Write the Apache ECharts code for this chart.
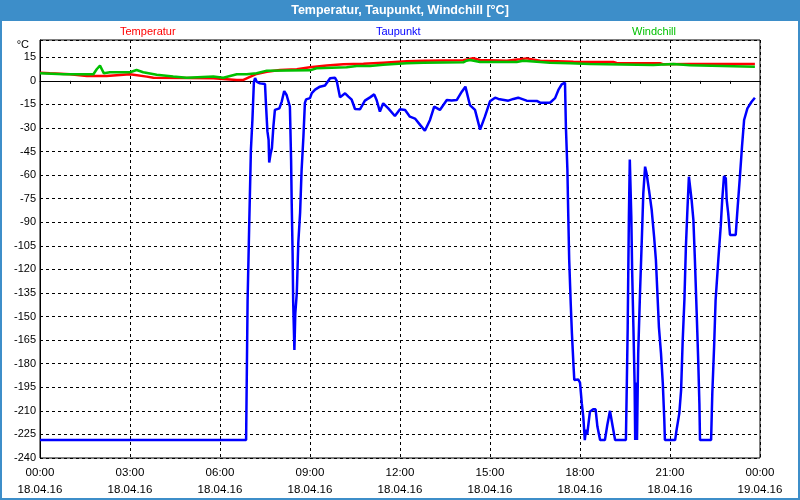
<!DOCTYPE html>
<html>
<head>
<meta charset="utf-8">
<script src="https://cdn.jsdelivr.net/npm/echarts@6/dist/echarts.min.js"></script>
<style>html,body{margin:0;padding:0;background:#fff}#c{width:800px;height:500px}</style>
</head>
<body>
<div id="c"></div>
<script>
const seriesNames = ['Temperatur', 'Taupunkt', 'Windchill'];
const xTickTimes = ['00:00','03:00','06:00','09:00','12:00','15:00','18:00','21:00','00:00'];
const xTickDates = ['18.04.16','18.04.16','18.04.16','18.04.16','18.04.16','18.04.16','18.04.16','18.04.16','19.04.16'];

// [hour, °C]
const tempData = [
  [0,5.2],[0.33,4.8],[1.0,4.2],[1.56,3.1],[2.22,3.1],[3.0,4.2],[3.56,2.7],[3.78,2.0],
  [4.89,1.8],[5.78,1.6],[6.11,1.2],[6.56,0.6],[6.78,0.6],[7.0,2.5],[7.22,4.4],[7.56,5.8],
  [8.0,6.9],[8.56,7.4],[9.0,8.6],[9.56,9.7],[10.11,10.5],[10.78,10.9],[11.44,11.6],[12.22,12.4],
  [12.78,12.8],[14.11,13.1],[14.44,14.4],[14.67,13.3],[15.56,12.8],[16.0,13.7],[16.22,14.3],
  [16.67,12.8],[17.78,12.2],[19.11,12.0],[19.22,11.4],[20.67,11.2],[20.78,10.5],[21.67,10.7],[23.83,10.7]
];

const dewData = [
  [0,-228.5],[6.87,-228.5],[6.92,-139.5],[6.97,-95],[7.03,-44],[7.08,-25],[7.13,-0.7],[7.17,1.8],
  [7.22,-0.5],[7.33,-1.6],[7.5,-2],[7.53,-14],[7.58,-32],[7.62,-37.6],[7.64,-52],[7.69,-46],
  [7.73,-42.8],[7.78,-29],[7.83,-18.5],[7.98,-17.5],[8.06,-13],[8.14,-6.5],[8.22,-9],[8.33,-16.4],
  [8.37,-50.4],[8.39,-77.8],[8.42,-109.6],[8.44,-141],[8.48,-171.3],[8.51,-148],[8.56,-135],
  [8.61,-103],[8.67,-84],[8.72,-56.7],[8.78,-35.7],[8.83,-14],[8.87,-11.8],[9.0,-11],[9.06,-7.8],
  [9.17,-5.6],[9.33,-3.7],[9.5,-3],[9.67,1.6],[9.83,2],[9.89,0],[10.0,-10.5],[10.17,-7.9],
  [10.28,-10],[10.39,-12],[10.5,-17.9],[10.67,-18],[10.83,-12.6],[11.0,-10.5],[11.14,-8.6],
  [11.22,-12.2],[11.33,-19.6],[11.44,-14.3],[11.61,-17.5],[11.83,-22.4],[12.0,-18],[12.17,-18.5],
  [12.33,-22.8],[12.5,-24],[12.67,-28],[12.83,-31.7],[13.0,-24.9],[13.14,-16.4],[13.33,-18.5],
  [13.56,-12.2],[13.72,-12.5],[13.89,-12.2],[14.06,-6.9],[14.18,-3.7],[14.33,-15.4],[14.5,-18.5],
  [14.67,-31],[14.83,-22.8],[15.0,-13],[15.17,-10.7],[15.28,-11.5],[15.61,-12.6],[15.78,-11.5],
  [15.94,-10.7],[16.22,-12.6],[16.56,-12.8],[16.67,-13.9],[17.0,-13.9],[17.17,-11],[17.28,-5.8],
  [17.39,-2.2],[17.5,-1.2],[17.53,-29.2],[17.58,-56.7],[17.61,-86.5],[17.64,-114],[17.69,-141.4],
  [17.73,-160.5],[17.78,-179.8],[17.81,-190.4],[17.94,-190],[18.0,-192],[18.06,-205.3],[18.11,-213.8],
  [18.16,-228.6],[18.2,-222],[18.24,-225],[18.33,-210.6],[18.44,-209],[18.52,-209],[18.58,-220],
  [18.67,-228.6],[18.83,-228.6],[18.91,-219],[19.0,-210],[19.09,-220],[19.17,-228.6],[19.53,-228.6],
  [19.56,-193.6],[19.59,-156.5],[19.61,-120.4],[19.63,-86.5],[19.66,-50],[19.69,-51],[19.71,-86.5],
  [19.74,-122.5],[19.78,-156.5],[19.82,-192.5],[19.84,-228.6],[19.87,-192],[19.9,-228.6],
  [19.94,-173.4],[20.0,-135.2],[20.06,-101.3],[20.11,-71.6],[20.17,-54.6],[20.22,-58.9],[20.3,-69.5],
  [20.39,-82.2],[20.47,-99.2],[20.53,-114],[20.58,-135.2],[20.63,-156.5],[20.7,-173.4],[20.76,-192.5],
  [20.81,-215.8],[20.83,-228.6],[21.17,-228.6],[21.22,-222],[21.31,-211.6],[21.37,-196.8],[21.42,-167],
  [21.48,-139.5],[21.53,-105.5],[21.58,-82.2],[21.63,-61],[21.67,-61],[21.72,-75.8],[21.78,-88.6],
  [21.83,-114],[21.89,-148],[21.94,-177.7],[21.98,-205.3],[22.0,-228.6],[22.37,-228.6],[22.41,-199],
  [22.47,-169.2],[22.52,-139.5],[22.61,-114],[22.69,-92.8],[22.74,-75.8],[22.8,-60.6],[22.86,-62],
  [22.89,-75.8],[22.94,-84.3],[23.0,-98.1],[23.19,-98.1],[23.24,-84.3],[23.33,-61],[23.4,-41.9],
  [23.47,-24.9],[23.58,-17.5],[23.72,-13.3],[23.83,-10.7]
];

const chillData = [
  [0,4.8],[0.78,4.2],[1.78,4.2],[1.89,7.4],[2.0,9.7],[2.13,4.8],[2.33,5.5],[3.0,5.5],[3.22,6.9],
  [3.44,5.5],[3.89,3.9],[4.44,2.7],[4.89,2.0],[5.78,2.7],[6.11,2.0],[6.56,4.2],[6.89,4.2],[7.22,4.8],
  [7.56,6.5],[9.0,6.7],[9.22,8.0],[10.22,8.6],[10.56,9.5],[11.0,9.5],[11.44,10.3],[12.22,11.2],
  [12.78,11.6],[14.11,11.8],[14.22,12.8],[14.33,13.3],[14.67,12.0],[15.89,12.0],[16.11,12.8],
  [16.56,12.2],[17.0,11.6],[17.67,11.2],[18.33,10.7],[20.44,10.1],[21.11,10.7],[21.67,9.9],[23.83,9.0]
];

const colors = ['#ff0000', '#0000ff', '#00c000'];
const FONT = 'Liberation Sans';
const chart = echarts.init(document.getElementById('c'), null, {renderer: 'canvas'});

chart.setOption({
  animation: false,
  backgroundColor: '#ffffff',
  graphic: [
    {type: 'rect', z: 0, silent: true, shape: {x: 0, y: 0, width: 800, height: 21}, style: {fill: '#3d8ec9'}},
    {type: 'rect', z: 0, silent: true, shape: {x: 1, y: 1, width: 798, height: 498}, style: {fill: 'none', stroke: '#3d8ec9', lineWidth: 2}},
    {type: 'text', z: 10, silent: true, x: 29, y: 45, style: {text: '°C', fill: '#000', font: '11px "' + FONT + '"', align: 'right', verticalAlign: 'middle'}}
  ],
  title: {
    text: 'Temperatur, Taupunkt, Windchill [°C]',
    left: 'center', top: 0, padding: [4, 5, 4, 5],
    textStyle: {color: '#ffffff', fontSize: 12.5, fontWeight: 'bold', fontFamily: FONT}
  },
  legend: seriesNames.map((n, i) => ({
    data: [n], left: [115, 371, 627][i], top: 25, padding: 0, icon: 'none', itemWidth: 0, itemHeight: 14,
    selectedMode: false,
    textStyle: {color: colors[i], fontSize: 11, fontFamily: FONT}
  })),
  grid: {left: 40, right: 40, top: 40, bottom: 42, show: true, borderColor: '#000', borderWidth: 1, backgroundColor: 'transparent'},
  xAxis: {
    type: 'value', min: 0, max: 24, interval: 3,
    axisLine: {show: true, lineStyle: {color: '#000', width: 1}},
    axisTick: {show: true, length: 4, lineStyle: {color: '#000'}},
    minorTick: {show: true, splitNumber: 3, length: 3, lineStyle: {color: '#000'}},
    splitLine: {show: true, lineStyle: {color: '#000', type: [3, 3], width: 1}},
    axisLabel: {
      color: '#000', fontSize: 11.5, fontFamily: FONT, lineHeight: 17, margin: 6,
      formatter: v => { const i = Math.round(v / 3); return xTickTimes[i] + '\n' + xTickDates[i]; }
    }
  },
  yAxis: {
    type: 'value', min: -240, max: 26, interval: 15,
    axisLine: {show: true, lineStyle: {color: '#000', width: 1}},
    axisTick: {show: false},
    splitLine: {show: true, lineStyle: {color: '#000', type: [3, 3], width: 1}},
    axisLabel: {
      color: '#000', fontSize: 11, fontFamily: FONT, margin: 4,
      formatter: v => (Math.round(v) % 15 === 0 ? String(Math.round(v)) : '')
    }
  },
  series: [
    {name: seriesNames[0], type: 'line', data: tempData, showSymbol: false, color: colors[0], lineStyle: {width: 2.5, color: colors[0]}, z: 3},
    {name: seriesNames[1], type: 'line', data: dewData, showSymbol: false, color: colors[1], lineStyle: {width: 2.5, color: colors[1]}, z: 2},
    {name: seriesNames[2], type: 'line', data: chillData, showSymbol: false, color: colors[2], lineStyle: {width: 2.5, color: colors[2]}, z: 3}
  ]
});
</script>
</body>
</html>
